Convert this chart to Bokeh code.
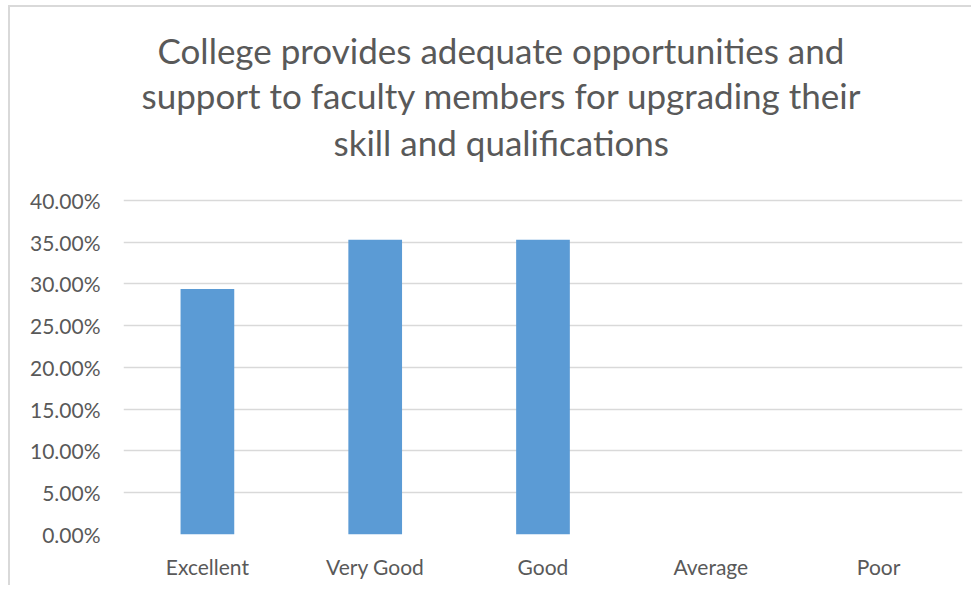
from bokeh.plotting import figure
from bokeh.models import Title, NumeralTickFormatter, FixedTicker, ColumnDataSource
from bokeh.embed import file_html
from bokeh.resources import INLINE

categories = ["Excellent", "Very Good", "Good", "Average", "Poor"]
values = [0.2941, 0.3529, 0.3529, 0.0, 0.0]
title_lines = [
    "College provides adequate opportunities and",
    "support to faculty members for upgrading their",
    "skill and qualifications",
]
y_ticks = [0.0, 0.05, 0.10, 0.15, 0.20, 0.25, 0.30, 0.35, 0.40]

FONT = "Lato"
GREY = "#595959"

src = ColumnDataSource(dict(cat=categories, val=values))

p = figure(
    x_range=categories, y_range=(0, 0.4419),
    width=963, height=580,
    output_backend="svg", toolbar_location=None,
    min_border_left=113, min_border_right=11, min_border_bottom=53, min_border_top=158,
)
p.outline_line_color = None
p.background_fill_color = "white"
p.border_fill_color = "white"
p.styles = {"border-left": "2px solid #D9D9D9", "border-top": "2px solid #D9D9D9",
            "margin-left": "8px", "margin-top": "5px"}

# title lines: innermost first; left-aligned with offsets so each is centred on the chart
standoffs = [6, 0, 2]
offsets = [210, 18, 34]
for line, so, off in zip(reversed(title_lines), standoffs, offsets):
    t = Title(text=line, align="left", text_font=FONT, text_font_size="35px",
              text_font_style="normal", text_color=GREY,
              standoff=so, offset=off)
    p.add_layout(t, "above")

p.vbar(x="cat", top="val", width=0.32, source=src,
       fill_color="#5B9BD5", line_color=None)

p.yaxis.ticker = FixedTicker(ticks=y_ticks)
p.yaxis.formatter = NumeralTickFormatter(format="0.00%")
for ax in (p.xaxis, p.yaxis):
    ax.axis_line_color = None
    ax.major_tick_line_color = None
    ax.minor_tick_line_color = None
    ax.major_tick_out = 0
    ax.major_tick_in = 0
    ax.minor_tick_out = 0
    ax.minor_tick_in = 0
    ax.major_label_text_font = FONT
    ax.major_label_text_font_size = "21px"
    ax.major_label_text_color = GREY
p.yaxis.major_label_standoff = 23
p.xaxis.major_label_standoff = 19

p.xgrid.grid_line_color = None
p.ygrid.grid_line_color = "#D9D9D9"
p.ygrid.grid_line_width = 1.5
p.ygrid.ticker = FixedTicker(ticks=y_ticks)
p.x_range.range_padding = 0

open("out.html", "w").write(file_html(p, INLINE))
